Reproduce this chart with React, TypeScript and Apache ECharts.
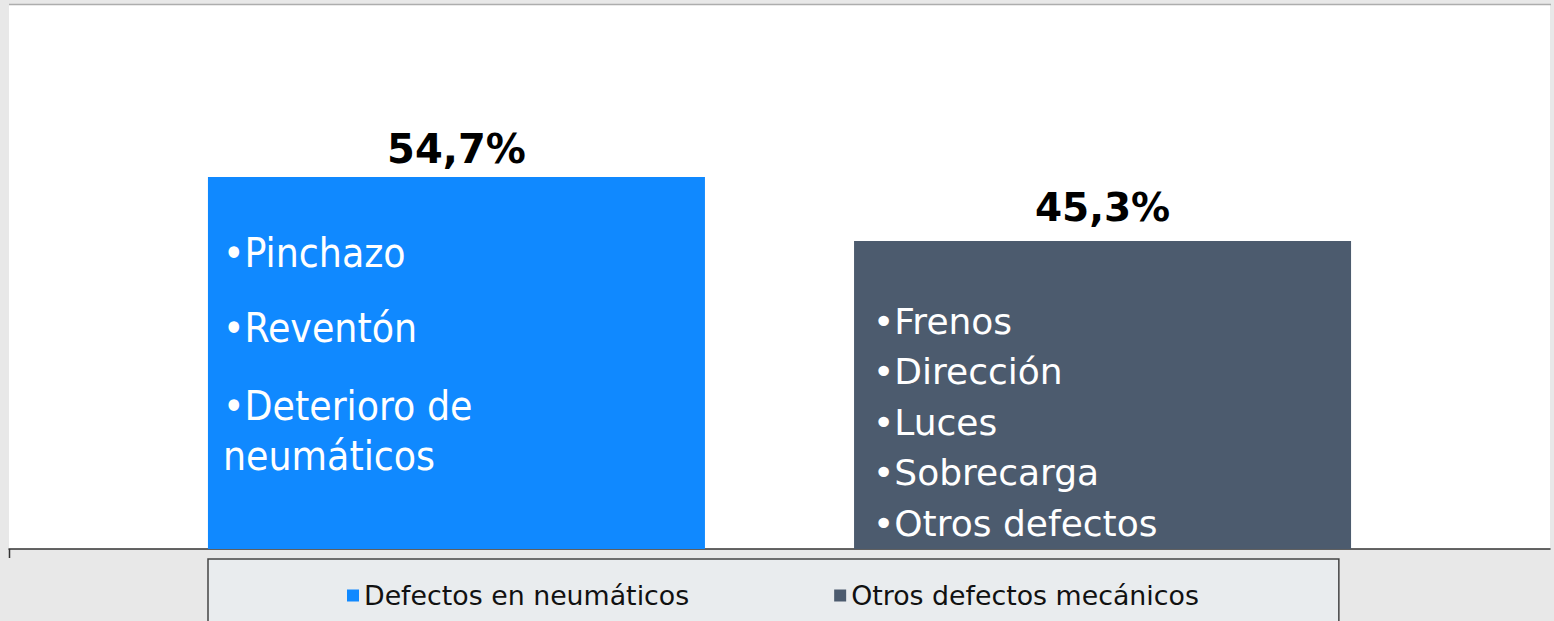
import React, { useEffect, useRef } from "react";
import * as echarts from "echarts";

const categories = [""];
const seriesNames = ["Defectos en neumáticos", "Otros defectos mecánicos"];
const shares = [54.7, 45.3];
const tyreItems = ["•Pinchazo", "•Reventón", "•Deterioro de", "neumáticos"];
const mechItems = ["•Frenos", "•Dirección", "•Luces", "•Sobrecarga", "•Otros defectos"];
const colors = ["#1089ff", "#4c5b6e"];

export default function App() {
  const ref = useRef<HTMLDivElement>(null);
  useEffect(() => {
    if (!ref.current) return;
    const chart = echarts.init(ref.current, null, { renderer: "svg" });
    const pct = (p: any) => String(p.value).replace(".", ",") + "%";
    const tyreLH = [74, 76, 80, 20];
    const tyreRich: any = {};
    tyreItems.forEach((_, i) => {
      tyreRich["l" + i] = {
        fontFamily: "DejaVu Sans Condensed",
        fontSize: 40.5,
        color: "#fff",
        lineHeight: tyreLH[i],
      };
    });
    const mechRich: any = {
      m: { fontFamily: "DejaVu Sans", fontSize: 36, color: "#fff", lineHeight: 50.5 },
    };
    chart.setOption({
      animation: false,
      backgroundColor: "#e8e8e8",
      grid: {
        left: 9,
        right: 4,
        top: 5,
        bottom: 72,
        show: true,
        backgroundColor: "#ffffff",
        borderWidth: 0,
      },
      graphic: [
        {
          type: "line",
          shape: { x1: 9, y1: 4.5, x2: 1551, y2: 4.5 },
          style: { stroke: "#adadad", lineWidth: 1.5 },
          z: 10,
        },
        {
          type: "line",
          shape: { x1: 9.5, y1: 549, x2: 9.5, y2: 558 },
          style: { stroke: "#333", lineWidth: 1.5 },
          z: 10,
        },
      ],
      legend: {
        left: 208,
        top: 559,
        padding: [23, 140, 30, 139],
        itemGap: 145,
        itemWidth: 12,
        itemHeight: 12,
        icon: "rect",
        backgroundColor: "#e9ecee",
        borderColor: "#444",
        borderWidth: 1.5,
        textStyle: { fontFamily: "DejaVu Sans", fontSize: 26.8, color: "#111" },
        data: seriesNames,
      },
      xAxis: {
        type: "category",
        data: categories,
        axisLine: { show: true, lineStyle: { color: "#333", width: 1.5 } },
        axisTick: { show: false },
        axisLabel: { show: false },
      },
      yAxis: { type: "value", min: 0, max: 80, show: false },
      series: [
        {
          name: seriesNames[0],
          type: "bar",
          data: [shares[0]],
          barWidth: 497,
          barGap: "30%",
          itemStyle: { color: colors[0] },
          label: {
            show: true,
            position: [15, 38.5],
            formatter: tyreItems.map((t, i) => `{l${i}|${t}}`).join("\n"),
            rich: tyreRich,
          },
          markPoint: {
            symbol: "circle",
            symbolSize: 1,
            itemStyle: { color: "rgba(0,0,0,0)" },
            label: {
              show: true,
              position: "top",
              distance: 8,
              formatter: pct,
              fontFamily: "DejaVu Sans",
              fontWeight: "bold",
              fontSize: 40,
              color: "#000",
            },
            data: [{ type: "max" }],
          },
        },
        {
          name: seriesNames[1],
          type: "bar",
          data: [shares[1]],
          barWidth: 497,
          barGap: "30%",
          itemStyle: { color: colors[1] },
          label: {
            show: true,
            position: [19, 55],
            formatter: mechItems.map((t) => `{m|${t}}`).join("\n"),
            rich: mechRich,
          },
          markPoint: {
            symbol: "circle",
            symbolSize: 1,
            itemStyle: { color: "rgba(0,0,0,0)" },
            label: {
              show: true,
              position: "top",
              distance: 13,
              formatter: pct,
              fontFamily: "DejaVu Sans",
              fontWeight: "bold",
              fontSize: 39,
              color: "#000",
            },
            data: [{ type: "max" }],
          },
        },
      ],
    });
    return () => chart.dispose();
  }, []);
  return (
    <div
      ref={ref}
      style={{ position: "absolute", left: 0, top: 0, width: 1554, height: 621 }}
    />
  );
}
